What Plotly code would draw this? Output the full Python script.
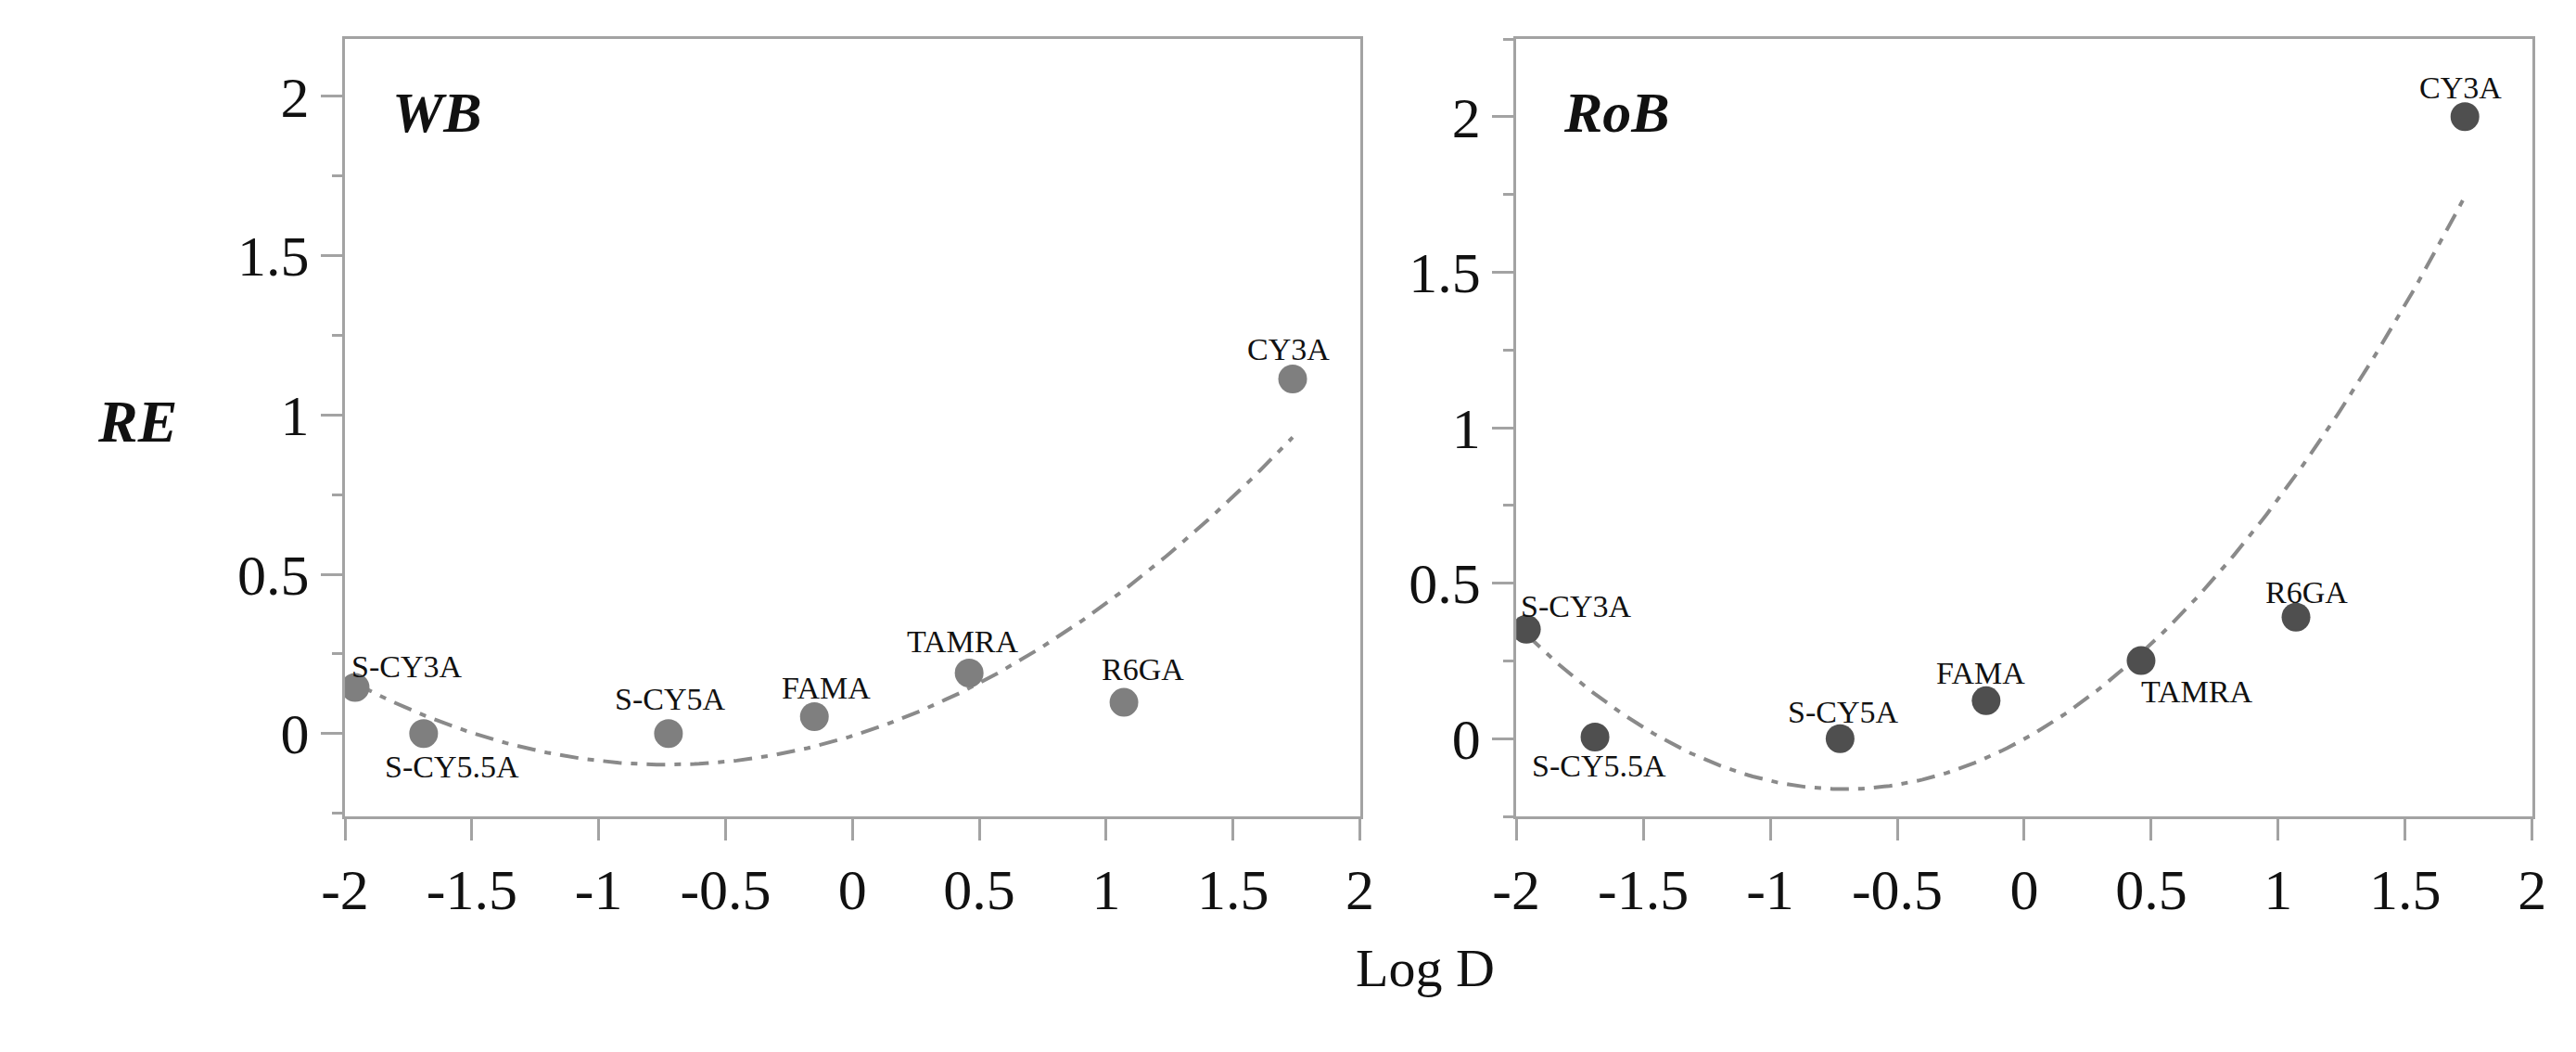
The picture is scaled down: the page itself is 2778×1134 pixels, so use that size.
import numpy as np
import plotly.graph_objects as go
from plotly.subplots import make_subplots

dyes = ["S-CY3A", "S-CY5.5A", "S-CY5A", "FAMA", "TAMRA", "R6GA", "CY3A"]
log_d = [-1.96, -1.69, -0.725, -0.15, 0.46, 1.07, 1.735]
re_wb = [0.145, 0.0, 0.0, 0.053, 0.19, 0.098, 1.113]
re_rob = [0.352, 0.005, 0.0, 0.122, 0.251, 0.391, 2.0]

x_ticks = [-2, -1.5, -1, -0.5, 0, 0.5, 1, 1.5, 2]
x_ticktext = ["-2", "-1.5", "-1", "-0.5", "0", "0.5", "1", "1.5", "2"]
y_ticks = [0, 0.5, 1, 1.5, 2]
y_ticktext = ["0", "0.5", "1", "1.5", "2"]

# label offsets in px (dx, dy) for each dye, as in the original figure
offs_wb = [(56, -22), (31, 36), (2, -37), (13, -31), (-7, -34), (20, -36), (-5, -32)]
offs_rob = [(53, -25), (4, 31), (3, -29), (-6, -30), (61, 33), (11, -27), (-5, -31)]

FONT = "Liberation Serif"
AXC = "#a3a3a3"

fig = make_subplots(rows=1, cols=2, horizontal_spacing=0.06)


def add_panel(col, ys, color, offs, name):
    xs_fit = np.linspace(min(log_d), max(log_d), 200)
    coef = np.polyfit(log_d, ys, 2)
    fig.add_trace(go.Scatter(x=xs_fit, y=np.polyval(coef, xs_fit), mode="lines",
                             line=dict(color="#8a8a8a", width=4, dash="20px,10px,7px,10px"),
                             showlegend=False, hoverinfo="skip"), row=1, col=col)
    fig.add_trace(go.Scatter(x=log_d, y=ys, mode="markers",
                             marker=dict(size=31, color=color),
                             showlegend=False), row=1, col=col)
    xr = "x" if col == 1 else "x2"
    yr = "y" if col == 1 else "y2"
    for d, x, y, (dx, dy) in zip(dyes, log_d, ys, offs):
        fig.add_annotation(x=x, y=y, xref=xr, yref=yr, text=d, showarrow=False,
                           xshift=dx, yshift=-dy, xanchor="center", yanchor="middle",
                           font=dict(family=FONT, size=34, color="#111"))
    fig.add_annotation(x=0.045, y=0.906, xref=xr + " domain", yref=yr + " domain",
                       text="<b><i>%s</i></b>" % name, showarrow=False,
                       xanchor="left", yanchor="middle",
                       font=dict(family=FONT, size=62, color="#111"))


add_panel(1, re_wb, "#7f7f7f", offs_wb, "WB")
add_panel(2, re_rob, "#4f4f4f", offs_rob, "RoB")

axis_common = dict(showline=True, linecolor=AXC, linewidth=3, mirror=True,
                   ticks="outside", ticklen=23, tickwidth=3, tickcolor=AXC,
                   showgrid=False, zeroline=False,
                   tickfont=dict(family=FONT, size=62, color="#111"))

fig.update_xaxes(range=[-2, 2], tickmode="array", tickvals=x_ticks, ticktext=x_ticktext,
                 **axis_common)
fig.update_yaxes(tickmode="array", tickvals=y_ticks, ticktext=y_ticktext,
                 minor=dict(ticks="outside", ticklen=11, tickwidth=3, tickcolor=AXC,
                            tickmode="linear", tick0=0, dtick=0.25),
                 **axis_common)
fig.update_xaxes(domain=[0.1235, 0.5234], row=1, col=1)
fig.update_xaxes(domain=[0.585, 0.9853], row=1, col=2)
fig.update_yaxes(domain=[0.231, 0.970], range=[-0.26, 2.18], row=1, col=1)
fig.update_yaxes(domain=[0.231, 0.970], range=[-0.25, 2.25], row=1, col=2)

fig.add_annotation(x=0.0252, y=0.606, xref="paper", yref="paper", text="<b><i>RE</i></b>",
                   showarrow=False, font=dict(family=FONT, size=64, color="#111"))
fig.add_annotation(x=0.549, y=0.0564, xref="paper", yref="paper", text="Log D",
                   showarrow=False, font=dict(family=FONT, size=58, color="#111"))

fig.update_layout(width=2778, height=1134, margin=dict(l=0, r=0, t=0, b=0),
                  paper_bgcolor="white", plot_bgcolor="white")

fig.write_html("out.html")
